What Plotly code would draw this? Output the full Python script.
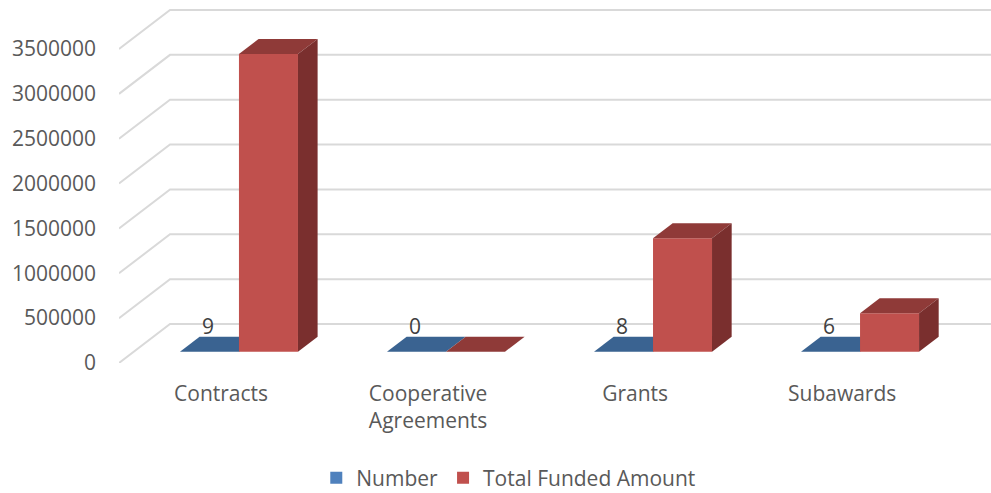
"""Oblique 3D-style column chart: contract counts and funded amounts by award type."""

import plotly.graph_objects as go

CATEGORIES = ["Contracts", "Cooperative<br>Agreements", "Grants", "Subawards"]
NUMBER = [9, 0, 8, 6]
TOTAL_FUNDED = [3318000, 0, 1264000, 428000]
VALUE_TICKS = [0, 500000, 1000000, 1500000, 2000000, 2500000, 3000000, 3500000]

BLUE = "#4F81BD"
BLUE_TOP = "#3A6391"
RED = "#C0504D"
RED_TOP = "#8F3A38"
RED_SIDE = "#7A2F2E"
GRID = "#D9D9D9"
TEXT = "#595959"
FONT = "Open Sans"

# Depth is faked with an oblique offset: one unit of depth moves right and up
# by these amounts, in axis units (207 px per category, 44.86 px per 500000).
DEPTH_X = 51 / 207
DEPTH_Y = 39 / 44.86 * 500000
BAR_DEPTH = (0.29, 0.675)
BAR_WIDTH = 59 / 207
X_RANGE = [-0.508, 3.704]
Y_TOP = 363 / 44.86 * 500000


def project(x, value, depth):
    return x + depth * DEPTH_X, value + depth * DEPTH_Y


def face(corners, color, xaxis="x", yaxis="y"):
    pts = [project(*c) for c in corners]
    return go.Scatter(
        x=[p[0] for p in pts] + [pts[0][0]],
        y=[p[1] for p in pts] + [pts[0][1]],
        mode="lines",
        fill="toself",
        fillcolor=color,
        line={"width": 0},
        hoverinfo="skip",
        showlegend=False,
        xaxis=xaxis,
        yaxis=yaxis,
    )


def column_faces(left, value, top_color, side_color, xaxis, yaxis):
    right = left + BAR_WIDTH
    near, far = BAR_DEPTH
    traces = [
        face(
            [(left, value, near), (right, value, near), (right, value, far), (left, value, far)],
            top_color,
            xaxis,
            yaxis,
        )
    ]
    if value > 0:
        traces.append(
            face(
                [(right, 0, near), (right, value, near), (right, value, far), (right, 0, far)],
                side_color,
                xaxis,
                yaxis,
            )
        )
    return traces


fig = go.Figure()

# Back wall gridlines, running in from the front edge of the floor.
for tick in VALUE_TICKS:
    x0, y0 = project(X_RANGE[0], tick, 0)
    x1, y1 = project(X_RANGE[0], tick, 1)
    fig.add_scatter(
        x=[x0, x1, X_RANGE[1]],
        y=[y0, y1, y1],
        mode="lines",
        line={"color": GRID, "width": 2},
        hoverinfo="skip",
        showlegend=False,
    )

positions = list(range(len(CATEGORIES)))
near_x, near_y = project(0, 0, BAR_DEPTH[0])

for pos, count in zip(positions, NUMBER):
    for trace in column_faces(pos - BAR_WIDTH, count, BLUE_TOP, BLUE_TOP, "x", "y"):
        fig.add_trace(trace)

fig.add_bar(
    x=[p - BAR_WIDTH / 2 + near_x for p in positions],
    y=NUMBER,
    base=near_y,
    width=BAR_WIDTH,
    name="Number",
    marker={"color": BLUE, "line": {"width": 0}},
)

# Count labels float above the flat blue columns.
fig.add_scatter(
    x=[p - BAR_WIDTH / 2 + near_x - 0.007 for p in positions],
    y=[near_y + 23 / 44.86 * 500000] * len(positions),
    mode="text",
    text=[str(n) for n in NUMBER],
    textposition="middle center",
    textfont={"family": FONT, "size": 21, "color": "#404040"},
    hoverinfo="skip",
    showlegend=False,
)

# Red columns sit on an overlaid axis pair so they paint over the blue faces.
for pos, amount in zip(positions, TOTAL_FUNDED):
    for trace in column_faces(pos, amount, RED_TOP, RED_SIDE, "x2", "y2"):
        fig.add_trace(trace)

fig.add_bar(
    x=[p + BAR_WIDTH / 2 + near_x for p in positions],
    y=TOTAL_FUNDED,
    base=near_y,
    width=BAR_WIDTH,
    name="Total Funded Amount",
    marker={"color": RED, "line": {"width": 0}},
    xaxis="x2",
    yaxis="y2",
)

fig.update_layout(
    width=991,
    height=493,
    # autoexpand off: the low legend would otherwise push the margin and squash the scale
    margin={"l": 119, "r": 0, "t": 0, "b": 130, "pad": 0, "autoexpand": False},
    paper_bgcolor="white",
    plot_bgcolor="white",
    font={"family": FONT, "size": 21, "color": TEXT},
    xaxis={
        "range": X_RANGE,
        "tickvals": [p - 0.015 for p in positions],
        "ticktext": CATEGORIES,
        "showgrid": False,
        "zeroline": False,
        "showline": False,
        "ticks": "",
        "ticklabelstandoff": 16,
        "tickangle": 0,
        "automargin": False,
    },
    yaxis={
        "range": [0, Y_TOP],
        "tickvals": VALUE_TICKS,
        "ticktext": [str(t) for t in VALUE_TICKS],
        "tickfont": {"family": FONT, "size": 21, "color": TEXT},
        "showgrid": False,
        "zeroline": False,
        "showline": False,
        "ticks": "",
        "ticklabelstandoff": 22,
        "automargin": False,
    },
    xaxis2={"matches": "x", "overlaying": "x", "visible": False},
    yaxis2={"matches": "y", "overlaying": "y", "visible": False},
    legend={
        "orientation": "h",
        "x": 0.447,
        "xanchor": "center",
        "y": -115 / 363,
        "yanchor": "middle",
        "font": {"family": FONT, "size": 21, "color": TEXT},
    },
)

# The page's default body margin would push the fixed-size figure off the window.
fig.write_html(
    "out.html",
    config={"displayModeBar": False},
    post_script="document.body.style.margin = '0';",
)
